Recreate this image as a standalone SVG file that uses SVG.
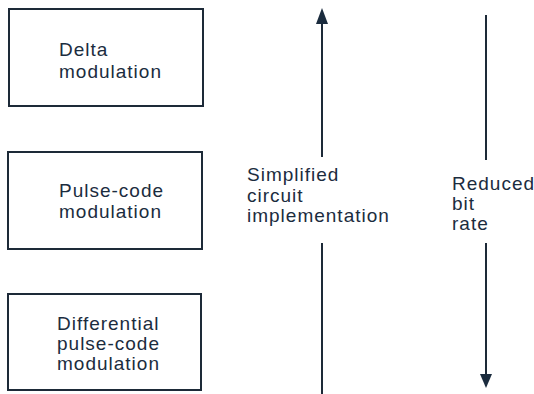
<svg xmlns="http://www.w3.org/2000/svg" width="534" height="394" viewBox="0 0 534 394">
<style>
.box{fill:none;stroke:#1d2a38;stroke-width:2}
.t{font-family:"Liberation Sans",Arial,sans-serif;font-size:19px;letter-spacing:1px;fill:#1b2c3e}
.ln{stroke:#1d2a38;stroke-width:2;fill:none}
.hd{fill:#1b2c3e}
</style>
<rect width="534" height="394" fill="#ffffff"/>
<g id="delta">
<rect class="box" x="9" y="9" width="194" height="97"/>
<text class="t" x="59" y="56">Delta</text>
<text class="t" x="59" y="78">modulation</text>
</g>
<g id="pcm">
<rect class="box" x="8" y="152" width="194" height="97"/>
<text class="t" x="59" y="197">Pulse-code</text>
<text class="t" x="59" y="218">modulation</text>
</g>
<g id="dpcm">
<rect class="box" x="8" y="294" width="193" height="96"/>
<text class="t" x="57" y="330">Differential</text>
<text class="t" x="57" y="350">pulse-code</text>
<text class="t" x="57" y="370">modulation</text>
</g>
<g id="connectors">
<line class="ln" x1="322" y1="22" x2="322" y2="157"/>
<line class="ln" x1="322" y1="243" x2="322" y2="394"/>
<polygon class="hd" points="322,8 316,24 328,24"/>
<line class="ln" x1="486" y1="15" x2="486" y2="160"/>
<line class="ln" x1="486" y1="243" x2="486" y2="377"/>
<polygon class="hd" points="486,388 480,374 492,374"/>
</g>
<g id="labels">
<text class="t" x="247" y="181">Simplified</text>
<text class="t" x="247" y="202">circuit</text>
<text class="t" x="247" y="222">implementation</text>
<text class="t" x="452" y="190">Reduced</text>
<text class="t" x="452" y="210">bit</text>
<text class="t" x="452" y="230">rate</text>
</g>
</svg>
